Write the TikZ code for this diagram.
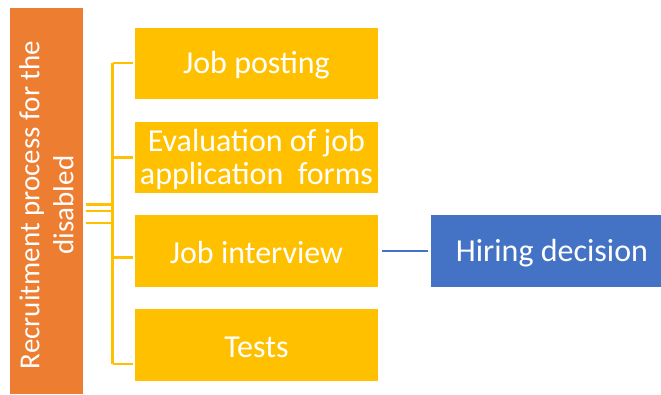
\documentclass[tikz,border=0pt]{standalone}
\usepackage{fontspec}
\setmainfont{Carlito}
\definecolor{accOrange}{HTML}{ED7D31}
\definecolor{accGold}{HTML}{FFC000}
\definecolor{accBlue}{HTML}{4472C4}
\begin{document}
\begin{tikzpicture}[x=1pt,y=-1pt,
  box/.style={draw=none,text=white,align=center,font=\fontsize{32}{33}\selectfont,inner sep=0pt},
  goldline/.style={draw=accGold,line width=2.6pt},
  blueline/.style={draw=accBlue,line width=2pt}]
\useasboundingbox (0,0) rectangle (661,394);
% root box with rotated title
\fill[accOrange] (10,8) rectangle (83,394);
\node[box,rotate=90,font=\fontsize{29}{34}\selectfont] (root) at (46.5,205) {Recruitment process for the\\disabled};
% step boxes
\fill[accGold] (135,28) rectangle (378,99);
\node[box] (s1) at (256.5,65.5) {Job posting};
\fill[accGold] (135,122) rectangle (378,193);
\node[box] (s2) at (256.5,159.5) {Evaluation of job\\application\ \ forms};
\fill[accGold] (135,215) rectangle (378,287);
\node[box] (s3) at (256.5,253) {Job interview};
\fill[accGold] (135,309) rectangle (378,381);
\node[box] (s4) at (256.5,347) {Tests};
\fill[accBlue] (431,215) rectangle (661,287);
\node[box] (hd) at (552,253) {Hiring decision};
% bracket connector
\coordinate (b1) at (112.5,63);
\coordinate (b2) at (112.5,157.5);
\coordinate (b3) at (112.5,257.5);
\coordinate (b4) at (112.5,364);
\draw[goldline] (b1) -- (b4);
\draw[goldline] (b1) -- ++(20,0);
\draw[goldline] (b2) -- ++(20,0);
\draw[goldline] (b3) -- ++(20,0);
\draw[goldline] (b4) -- ++(20,0);
\draw[goldline] (86,204.5) -- (112.5,204.5);
\draw[goldline] (86,211) -- (112.5,211);
\draw[goldline] (86,223) -- (112.5,223);
% link to decision
\coordinate (s3E) at (382,251);
\coordinate (hdW) at (428,251);
\draw[blueline] (s3E) -- (hdW);
\end{tikzpicture}
\end{document}
